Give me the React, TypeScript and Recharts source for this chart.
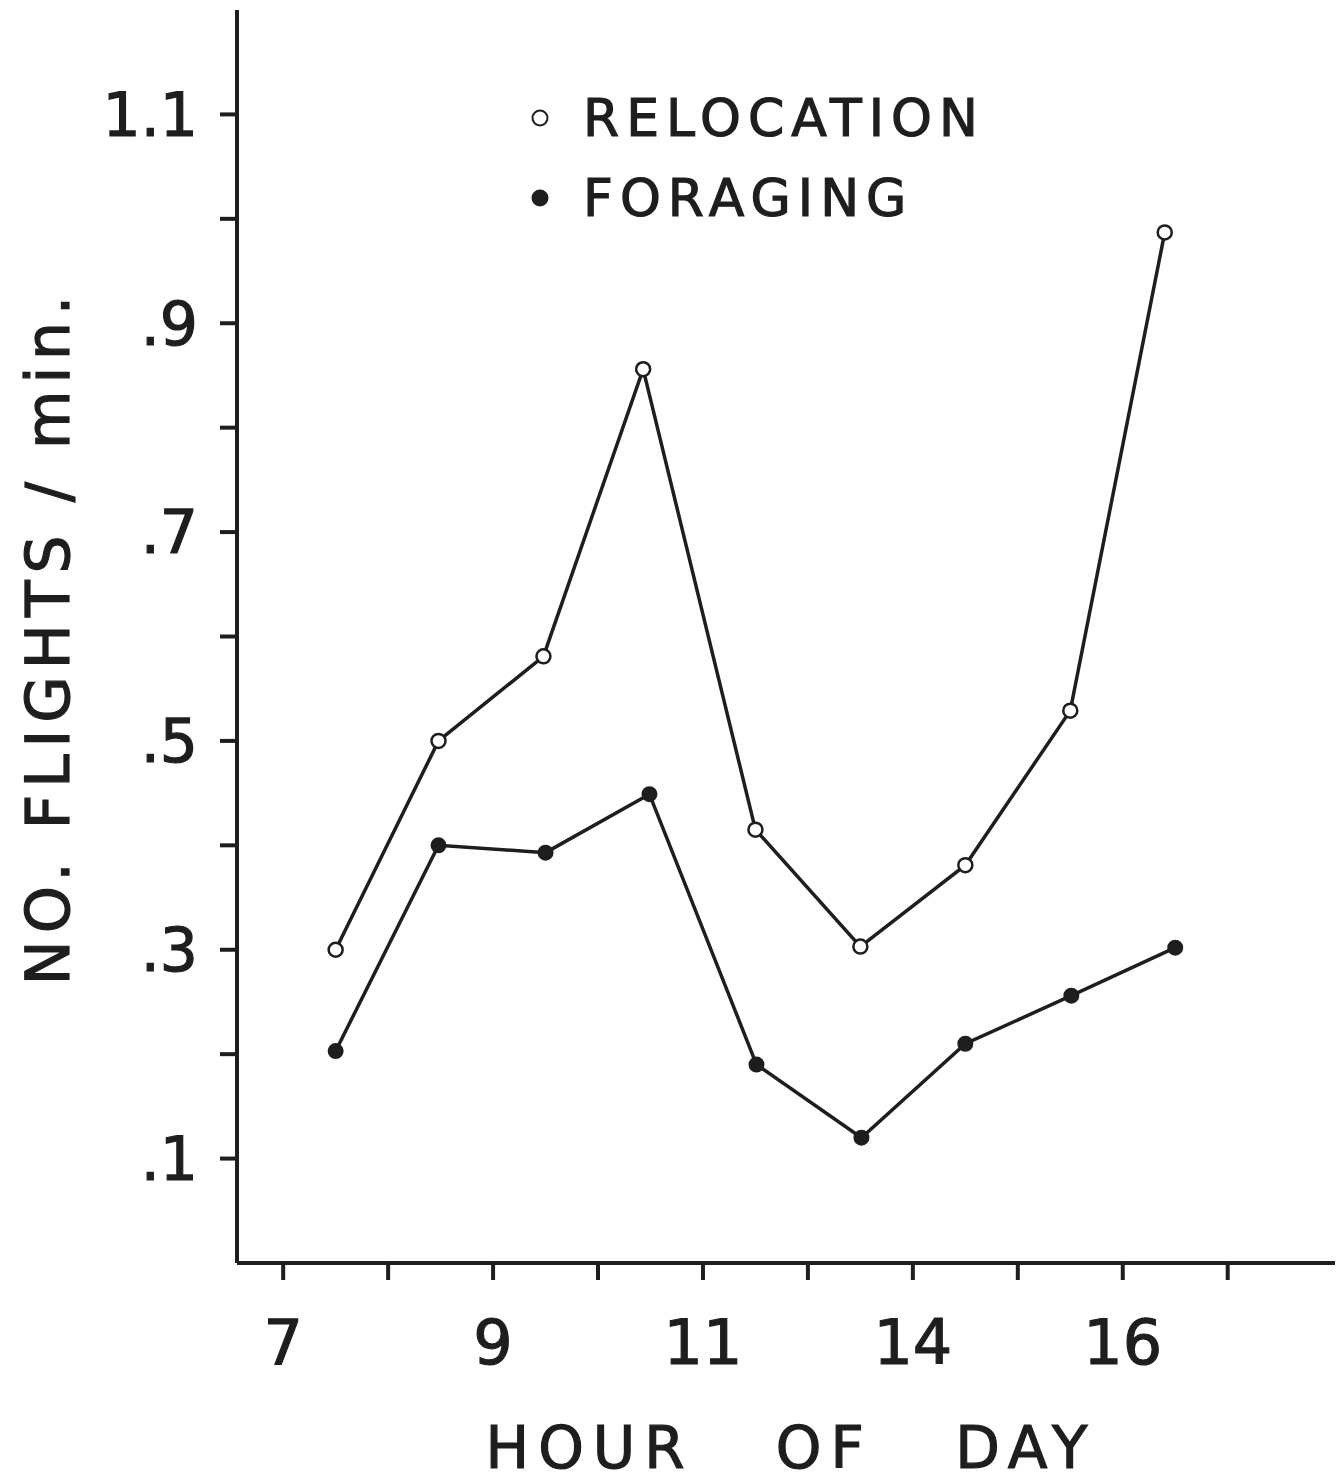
import { Legend, Line, LineChart, XAxis, YAxis, Label } from "recharts"

// x positions are in tick-slot units (tick 0 = "7")
const relocationX = [0.5, 1.48, 2.48, 3.43, 4.5, 5.5, 6.5, 7.5, 8.4]
const relocationY = [0.3, 0.5, 0.581, 0.856, 0.415, 0.303, 0.381, 0.529, 0.987]
const foragingX = [0.5, 1.48, 2.5, 3.49, 4.51, 5.51, 6.5, 7.51, 8.5]
const foragingY = [0.203, 0.4, 0.393, 0.449, 0.19, 0.12, 0.21, 0.256, 0.302]

const xTicks = [0, 1, 2, 3, 4, 5, 6, 7, 8, 9]
const xTickLabels = ["7", "", "9", "", "11", "", "14", "", "16", ""]
const yTicks = [0.1, 0.2, 0.3, 0.4, 0.5, 0.6, 0.7, 0.8, 0.9, 1.0, 1.1]
const yTickLabels = [".1", "", ".3", "", ".5", "", ".7", "", ".9", "", "1.1"]

const relocation = relocationX.map((x, i) => ({ x, y: relocationY[i] }))
const foraging = foragingX.map((x, i) => ({ x, y: foragingY[i] }))

const ink = "#1e1e1e"
const font = "'DejaVu Sans', sans-serif"
const heavy = { fontFamily: font, fill: ink, stroke: ink, strokeWidth: 1.2 }

function LegendBox() {
  const items = [
    { name: "RELOCATION", fill: "#fff" },
    { name: "FORAGING", fill: ink },
  ]
  return (
    <div style={{ fontFamily: font, color: ink }}>
      {items.map((it) => (
        <div key={it.name} style={{ display: "flex", alignItems: "center", height: 80 }}>
          <svg width={60} height={30} style={{ marginRight: 18 }}>
            <circle cx={35} cy={15} r={7.5} fill={it.fill} stroke={ink} strokeWidth={2} />
          </svg>
          <span style={{ fontSize: 52, letterSpacing: 7, WebkitTextStroke: `1.2px ${ink}` }}>
            {it.name}
          </span>
        </div>
      ))}
    </div>
  )
}

export default function App() {
  return (
    <LineChart
      width={1335}
      height={1473}
      margin={{ top: 2, right: 3, bottom: 0, left: 0 }}
    >
      <XAxis
        type="number"
        dataKey="x"
        height={218}
        domain={[-0.44, 10.07]}
        ticks={xTicks}
        tickFormatter={(v: number) => xTickLabels[xTicks.indexOf(v)] ?? ""}
        axisLine={{ stroke: ink, strokeWidth: 4 }}
        tickLine={{ stroke: ink, strokeWidth: 4 }}
        tickSize={17}
        tickMargin={40}
        tick={{ fontSize: 62, ...heavy }}
        allowDataOverflow
      >
        <Label
          content={() => (
            <text
              x={791 - 8}
              y={1468 - 8}
              textAnchor="middle"
              fontSize={58}
              letterSpacing={9}
              style={{ ...heavy, whiteSpace: "pre" }}
            >
              HOUR   OF   DAY
            </text>
          )}
        />
      </XAxis>
      <YAxis
        type="number"
        dataKey="y"
        width={229}
        domain={[0, 1.2]}
        ticks={yTicks}
        tickFormatter={(v: number) => {
          const i = yTicks.findIndex((t) => Math.abs(t - v) < 1e-6)
          return i >= 0 ? yTickLabels[i] : ""
        }}
        axisLine={{ stroke: ink, strokeWidth: 4 }}
        tickLine={{ stroke: ink, strokeWidth: 4 }}
        tickSize={17}
        tickMargin={22}
        tick={{ fontSize: 60, ...heavy }}
        allowDataOverflow
      >
        <Label
          content={() => (
            <text
              transform={`translate(${48 - 8}, ${637 - 8}) rotate(-90)`}
              textAnchor="middle"
              dominantBaseline="central"
              fontSize={60}
              letterSpacing={7}
              style={heavy}
            >
              NO.  FLIGHTS / min.
            </text>
          )}
        />
      </YAxis>
      <Legend
        layout="vertical"
        verticalAlign="middle"
        align="center"
        content={() => <LegendBox />}
        wrapperStyle={{ top: 70, left: 497, width: 600 }}
      />
      <Line
        data={relocation}
        dataKey="y"
        stroke={ink}
        strokeWidth={3.5}
        dot={{ r: 7, fill: "#fff", stroke: ink, strokeWidth: 2.5 }}
        isAnimationActive={false}
        legendType="circle"
      />
      <Line
        data={foraging}
        dataKey="y"
        stroke={ink}
        strokeWidth={3.5}
        dot={{ r: 7, fill: ink, stroke: ink, strokeWidth: 2 }}
        isAnimationActive={false}
        legendType="circle"
      />
    </LineChart>
  )
}
